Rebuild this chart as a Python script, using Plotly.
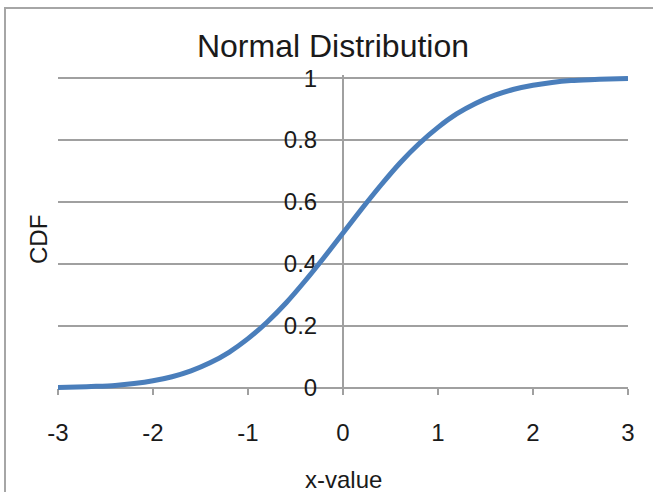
import plotly.graph_objects as go

# Data (standard normal CDF curve)
x_values = [-3.0, -2.8, -2.6, -2.4, -2.2, -2.0, -1.8, -1.6, -1.4, -1.2, -1.0,
            -0.8, -0.6, -0.4, -0.2, 0.0, 0.2, 0.4, 0.6, 0.8, 1.0,
            1.2, 1.4, 1.6, 1.8, 2.0, 2.2, 2.4, 2.6, 2.8, 3.0]
cdf_values = [0.001, 0.003, 0.005, 0.008, 0.014, 0.023, 0.036, 0.055, 0.081, 0.115, 0.159,
              0.212, 0.274, 0.345, 0.421, 0.500, 0.579, 0.655, 0.726, 0.788, 0.841,
              0.885, 0.919, 0.945, 0.964, 0.977, 0.986, 0.992, 0.995, 0.997, 0.999]

x_tickvals = [-3, -2, -1, 0, 1, 2, 3]
x_ticktext = ["-3", "-2", "-1", "0", "1", "2", "3"]
y_tickvals = [0, 0.2, 0.4, 0.6, 0.8, 1.0]
y_ticktext = ["0", "0.2", "0.4", "0.6", "0.8", "1"]

chart_title = "Normal Distribution"
x_title = "x-value"
y_title = "CDF"

FONT = "Liberation Sans, Arial, sans-serif"
TEXT = "#1a1a1a"
GRID = "#a0a0a0"
LINE = "#4a7ebb"

fig = go.Figure()
fig.add_trace(go.Scatter(
    x=x_values, y=cdf_values, mode="lines",
    line=dict(color=LINE, width=5, shape="spline", smoothing=0.5),
    showlegend=False, hoverinfo="x+y",
))

W, H = 653, 492
L, R = 58, 25
T, B = 75, 101
plot_h = H - T - B
y_lo, y_hi = -0.01, 1.01

fig.update_layout(
    width=W, height=H,
    margin=dict(l=L, r=R, t=T, b=B, pad=0),
    paper_bgcolor="white", plot_bgcolor="white",
    font=dict(family=FONT, color=TEXT, size=24),
    title=dict(text=chart_title, x=(333 - L) / (W - L - R), xref="paper", xanchor="center",
               y=1 - 46 / H, yref="container", yanchor="middle",
               font=dict(family=FONT, size=32, color=TEXT)),
    xaxis=dict(
        range=[-3, 3], tickvals=x_tickvals, ticktext=x_ticktext,
        showgrid=False, zeroline=False,
        showline=True, linecolor=GRID, linewidth=2,
        ticks="outside", ticklen=6, tickwidth=2, tickcolor=GRID,
        tickfont=dict(family=FONT, size=24, color=TEXT),
        ticklabelstandoff=17,
        anchor="free", position=(0 - y_lo) / (y_hi - y_lo),
        layer="below traces", fixedrange=True,
    ),
    yaxis=dict(
        range=[y_lo, y_hi], tickvals=y_tickvals, ticktext=y_ticktext,
        showgrid=True, gridcolor=GRID, gridwidth=2, zeroline=False,
        showline=True, linecolor=GRID, linewidth=2,
        ticks="", tickfont=dict(family=FONT, size=24, color=TEXT),
        ticklabelstandoff=20,
        anchor="free", position=0.5,
        layer="below traces", fixedrange=True,
    ),
    annotations=[
        dict(text=x_title, xref="paper", yref="paper",
             x=(343 - L) / (W - L - R), y=(H - B - 479) / plot_h,
             xanchor="center", yanchor="middle", showarrow=False,
             font=dict(family=FONT, size=24, color=TEXT)),
        dict(text=y_title, xref="paper", yref="paper",
             x=(38 - L) / (W - L - R), y=(H - B - 240) / plot_h,
             xanchor="center", yanchor="middle", textangle=-90, showarrow=False,
             font=dict(family=FONT, size=24, color=TEXT)),
    ],
    shapes=[
        dict(type="rect", xref="paper", yref="paper",
             x0=(5 - L) / (W - L - R), x1=1.3,
             y0=-0.6, y1=(H - B - 8) / plot_h,
             line=dict(color="#a6a6a6", width=2), fillcolor="rgba(0,0,0,0)", layer="below"),
    ],
)

fig.write_html("out.html")
